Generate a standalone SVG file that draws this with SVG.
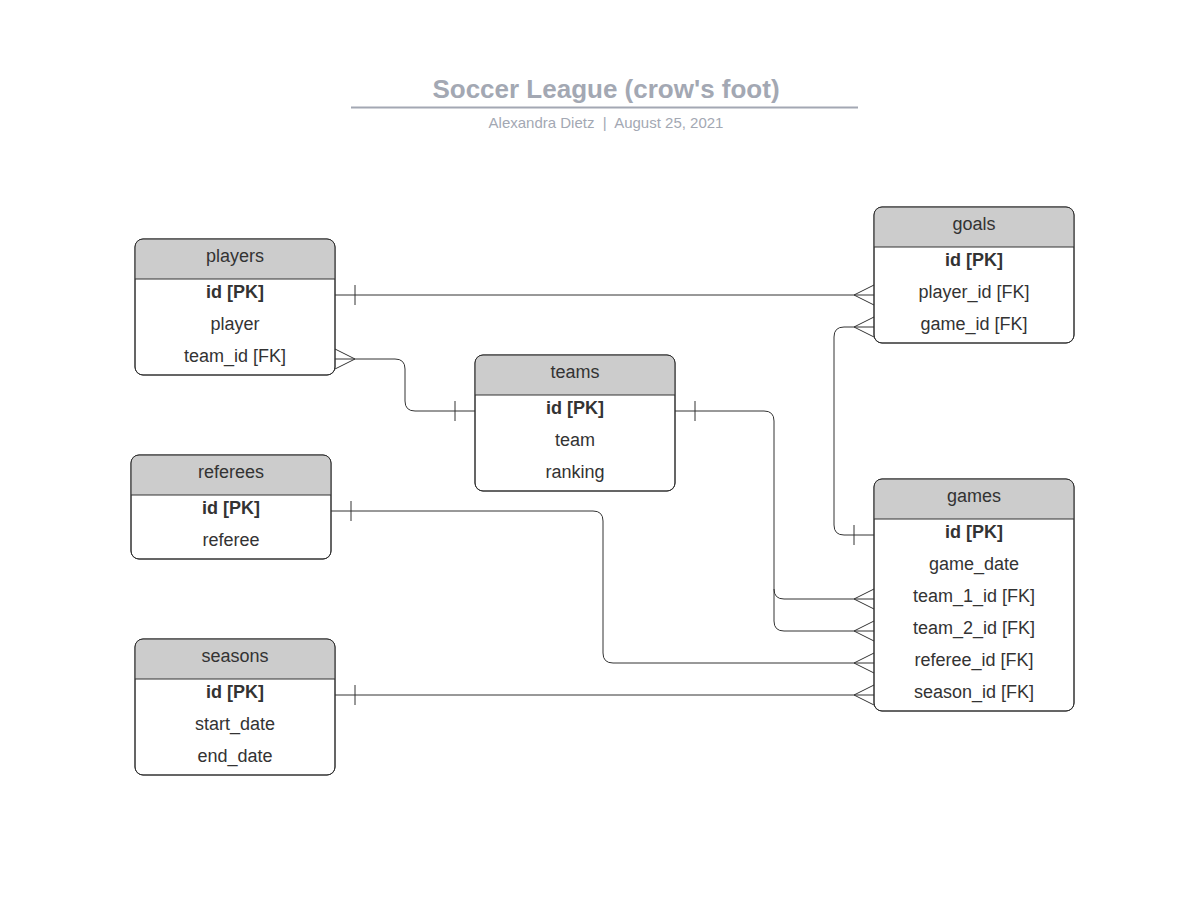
<svg xmlns="http://www.w3.org/2000/svg" width="1203" height="922" viewBox="0 0 1203 922">
<style>
.box{fill:#ffffff;stroke:#333333;stroke-width:1}
.hdr{fill:#cccccc}
.sep{stroke:#333333;stroke-width:1}
.t{font-family:"Liberation Sans",Arial,sans-serif;font-size:18px;fill:#333333;text-anchor:middle}
.b{font-weight:bold}
.c{fill:none;stroke:#333333;stroke-width:1}
</style>
<rect width="1203" height="922" fill="#ffffff"/>
<g id="title">
<text x="606" y="98" style="font-family:'Liberation Sans',Arial,sans-serif;font-size:26px;font-weight:bold;fill:#a3a8b3;text-anchor:middle">Soccer League (crow's foot)</text>
<line x1="351" y1="107.5" x2="858" y2="107.5" stroke="#a3a8b3" stroke-width="2"/>
<text x="606" y="128" style="font-family:'Liberation Sans',Arial,sans-serif;font-size:15px;fill:#a3a8b3;text-anchor:middle" xml:space="preserve">Alexandra Dietz  |  August 25, 2021</text>
</g>
<g id="connectors">
<path class="c" d="M335,295 H874 M355,285 V305 M854,295 L874,285 M854,295 L874,305"/>
<path class="c" d="M335,359 H395 Q405,359 405,369 V401 Q405,411 415,411 H475 M355,359 L335,349 M355,359 L335,369 M455,401 V421"/>
<path class="c" d="M675,411 H764 Q774,411 774,421 V589 Q774,599 784,599 H874 M774,589 V621 Q774,631 784,631 H874 M695,401 V421 M854,599 L874,589 M854,599 L874,609 M854,631 L874,621 M854,631 L874,641"/>
<path class="c" d="M331,511 H593 Q603,511 603,521 V653 Q603,663 613,663 H874 M351,501 V521 M854,663 L874,653 M854,663 L874,673"/>
<path class="c" d="M335,695 H874 M355,685 V705 M854,695 L874,685 M854,695 L874,705"/>
<path class="c" d="M874,535 H844 Q834,535 834,525 V337 Q834,327 844,327 H874 M854,525 V545 M854,327 L874,317 M854,327 L874,337"/>
</g>
<g id="players">
<rect class="box" x="135" y="239" width="200" height="136" rx="8"/>
<path class="hdr" d="M143,239.5 H327 Q334.5,239.5 334.5,247 V279 H135.5 V247 Q135.5,239.5 143,239.5 Z"/>
<line class="sep" x1="135" y1="279" x2="335" y2="279"/>
<rect x="135" y="239" width="200" height="136" rx="8" fill="none" stroke="#333333"/>
<text class="t" x="235" y="262">players</text>
<text class="t b" x="235" y="298">id [PK]</text>
<text class="t" x="235" y="330">player</text>
<text class="t" x="235" y="362">team_id [FK]</text>
</g>
<g id="goals">
<rect class="box" x="874" y="207" width="200" height="136" rx="8"/>
<path class="hdr" d="M882,207.5 H1066 Q1073.5,207.5 1073.5,215 V247 H874.5 V215 Q874.5,207.5 882,207.5 Z"/>
<line class="sep" x1="874" y1="247" x2="1074" y2="247"/>
<rect x="874" y="207" width="200" height="136" rx="8" fill="none" stroke="#333333"/>
<text class="t" x="974" y="230">goals</text>
<text class="t b" x="974" y="266">id [PK]</text>
<text class="t" x="974" y="298">player_id [FK]</text>
<text class="t" x="974" y="330">game_id [FK]</text>
</g>
<g id="teams">
<rect class="box" x="475" y="355" width="200" height="136" rx="8"/>
<path class="hdr" d="M483,355.5 H667 Q674.5,355.5 674.5,363 V395 H475.5 V363 Q475.5,355.5 483,355.5 Z"/>
<line class="sep" x1="475" y1="395" x2="675" y2="395"/>
<rect x="475" y="355" width="200" height="136" rx="8" fill="none" stroke="#333333"/>
<text class="t" x="575" y="378">teams</text>
<text class="t b" x="575" y="414">id [PK]</text>
<text class="t" x="575" y="446">team</text>
<text class="t" x="575" y="478">ranking</text>
</g>
<g id="referees">
<rect class="box" x="131" y="455" width="200" height="104" rx="8"/>
<path class="hdr" d="M139,455.5 H323 Q330.5,455.5 330.5,463 V495 H131.5 V463 Q131.5,455.5 139,455.5 Z"/>
<line class="sep" x1="131" y1="495" x2="331" y2="495"/>
<rect x="131" y="455" width="200" height="104" rx="8" fill="none" stroke="#333333"/>
<text class="t" x="231" y="478">referees</text>
<text class="t b" x="231" y="514">id [PK]</text>
<text class="t" x="231" y="546">referee</text>
</g>
<g id="seasons">
<rect class="box" x="135" y="639" width="200" height="136" rx="8"/>
<path class="hdr" d="M143,639.5 H327 Q334.5,639.5 334.5,647 V679 H135.5 V647 Q135.5,639.5 143,639.5 Z"/>
<line class="sep" x1="135" y1="679" x2="335" y2="679"/>
<rect x="135" y="639" width="200" height="136" rx="8" fill="none" stroke="#333333"/>
<text class="t" x="235" y="662">seasons</text>
<text class="t b" x="235" y="698">id [PK]</text>
<text class="t" x="235" y="730">start_date</text>
<text class="t" x="235" y="762">end_date</text>
</g>
<g id="games">
<rect class="box" x="874" y="479" width="200" height="232" rx="8"/>
<path class="hdr" d="M882,479.5 H1066 Q1073.5,479.5 1073.5,487 V519 H874.5 V487 Q874.5,479.5 882,479.5 Z"/>
<line class="sep" x1="874" y1="519" x2="1074" y2="519"/>
<rect x="874" y="479" width="200" height="232" rx="8" fill="none" stroke="#333333"/>
<text class="t" x="974" y="502">games</text>
<text class="t b" x="974" y="538">id [PK]</text>
<text class="t" x="974" y="570">game_date</text>
<text class="t" x="974" y="602">team_1_id [FK]</text>
<text class="t" x="974" y="634">team_2_id [FK]</text>
<text class="t" x="974" y="666">referee_id [FK]</text>
<text class="t" x="974" y="698">season_id [FK]</text>
</g>
</svg>
